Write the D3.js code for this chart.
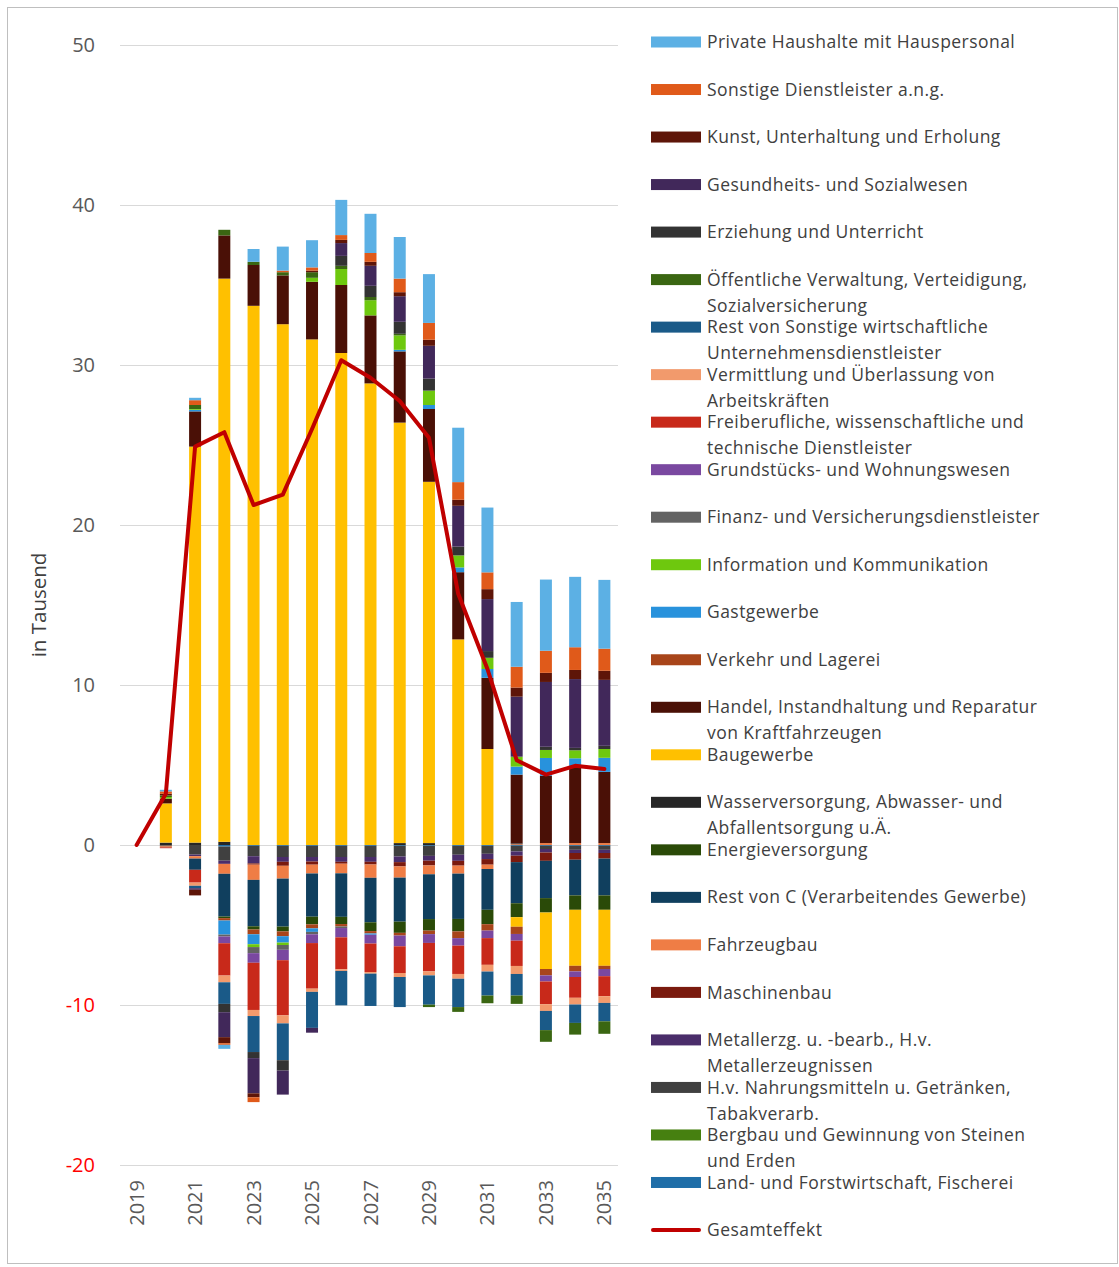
<!DOCTYPE html>
<html><head><meta charset="utf-8">
<script src="https://cdn.jsdelivr.net/npm/d3@7"></script>
<style>body{margin:0;background:#fff}</style>
</head><body><svg id="c" width="1119" height="1267"></svg>
<script>
// ---------- DATA ----------
const years = [2019,2020,2021,2022,2023,2024,2025,2026,2027,2028,2029,2030,2031,2032,2033,2034,2035];
const yearTickLabels = [2019,2021,2023,2025,2027,2029,2031,2033,2035];
const yTicks = [-20,-10,0,10,20,30,40,50];

const landForst      = [0,0,0,-0.1,-0.05,-0.05,-0.05,-0.05,-0.05,-0.05,-0.05,-0.05,-0.05,-0.05,-0.05,-0.05,-0.05];
const bergbau        = [0,0,0,0,0,0,0,0,0,0,0,0,0,0,0,0,0];
const nahrung        = [0,-0.05,-0.6,-0.88,-0.65,-0.7,-0.7,-0.7,-0.7,-0.67,-0.63,-0.56,-0.5,-0.35,-0.2,-0.25,-0.25];
const metall         = [0,0,-0.1,-0.2,-0.45,-0.3,-0.28,-0.3,-0.3,-0.35,-0.3,-0.38,-0.33,-0.27,-0.22,-0.2,-0.2];
const maschinenbau   = [0,0,0,0,-0.08,-0.25,-0.2,-0.12,-0.17,-0.27,-0.3,-0.3,-0.35,-0.4,-0.52,-0.42,-0.35];
const fahrzeugbau    = [0,-0.05,-0.15,-0.62,-0.95,-0.8,-0.55,-0.6,-0.83,-0.7,-0.55,-0.5,-0.27,0.05,0.12,0.12,0.12];
const restC          = [0,0,-0.7,-2.67,-2.9,-3.0,-2.7,-2.72,-2.78,-2.75,-2.8,-2.83,-2.55,-2.57,-2.33,-2.23,-2.3];
const energie        = [0,0,0,-0.1,-0.2,-0.3,-0.48,-0.45,-0.55,-0.7,-0.72,-0.78,-0.9,-0.87,-0.9,-0.9,-0.9];
const wasser         = [0,0.15,0.15,0.2,0,0,0,0,0,0.12,0.12,0,0,0.05,0,0,0];
const baugewerbe     = [0,2.45,24.75,35.2,33.7,32.55,31.6,30.75,28.85,26.28,22.58,12.85,6.0,-0.6,-3.53,-3.5,-3.5];
const handel         = [0,0.3,2.2,2.7,2.55,3.05,3.6,4.25,4.25,4.45,4.55,4.2,4.45,4.3,4.2,4.75,4.45];
const verkehr        = [0,-0.05,0,-0.15,-0.3,-0.3,-0.25,-0.15,-0.15,-0.17,-0.22,-0.42,-0.4,-0.45,-0.4,-0.35,-0.2];
const gastgewerbe    = [0,0,0.1,-0.88,-0.62,-0.4,-0.22,0,-0.08,0.1,0.25,0.3,0.55,0.5,1.12,0.55,0.88];
const information    = [0,0.1,0.05,0,-0.18,-0.15,0.25,1.0,0.95,0.9,0.9,0.75,0.7,0.62,0.5,0.5,0.55];
const finanz         = [0,0,0,-0.12,-0.38,-0.3,-0.15,-0.1,0,0,0,0,0,0,0,0,0];
const grundstuecke   = [0,0,0,-0.42,-0.6,-0.65,-0.55,-0.58,-0.55,-0.67,-0.55,-0.47,-0.47,-0.42,-0.38,-0.35,-0.45];
const freiberufliche = [0,-0.05,-0.8,-2.02,-2.95,-3.45,-2.85,-2.0,-1.78,-1.67,-1.78,-1.77,-1.67,-1.58,-1.42,-1.3,-1.25];
const vermittlung    = [0,0,-0.2,-0.42,-0.38,-0.5,-0.2,-0.1,-0.1,-0.25,-0.25,-0.3,-0.42,-0.5,-0.42,-0.42,-0.42];
const restSonstige   = [0,0,-0.15,-1.35,-2.25,-2.3,-2.25,-2.15,-2.02,-1.88,-1.83,-1.77,-1.5,-1.35,-1.2,-1.15,-1.15];
const oeffentliche   = [0,0.1,0.25,0.35,0.2,0.2,0.35,0.2,0.2,0.1,-0.15,-0.3,-0.48,-0.52,-0.73,-0.73,-0.78];
const erziehung      = [0,0,0,-0.52,-0.38,-0.65,0,0.62,0.7,0.75,0.75,0.55,0.42,0,0.2,0.15,0.2];
const gesundheit     = [0,0,-0.1,-1.56,-2.2,-1.5,-0.3,0.8,1.25,1.6,2.05,2.55,3.25,3.75,4.05,4.3,4.12];
const kunst          = [0,0.1,-0.35,-0.38,-0.25,0,0.1,0.2,0.25,0.25,0.38,0.38,0.62,0.57,0.57,0.57,0.57];
const sonstigeDL     = [0,0.15,0.3,-0.1,-0.3,0.1,0.2,0.3,0.55,0.85,1.05,1.1,1.05,1.3,1.38,1.42,1.38];
const privateHH      = [0,0.1,0.15,-0.25,0.8,1.5,1.7,2.2,2.45,2.6,3.05,3.4,4.05,4.05,4.45,4.4,4.3];
const gesamteffekt   = [0,3.2,24.9,25.8,21.25,21.9,26.0,30.3,29.2,27.75,25.45,15.7,11.0,5.3,4.4,4.95,4.75];

// series in stacking order (first = closest to zero)
const seriesNames = [
  "Land- und Forstwirtschaft, Fischerei",
  "Bergbau und Gewinnung von Steinen\nund Erden",
  "H.v. Nahrungsmitteln u. Getränken,\nTabakverarb.",
  "Metallerzg. u. -bearb., H.v.\nMetallerzeugnissen",
  "Maschinenbau",
  "Fahrzeugbau",
  "Rest von C (Verarbeitendes Gewerbe)",
  "Energieversorgung",
  "Wasserversorgung, Abwasser- und\nAbfallentsorgung u.Ä.",
  "Baugewerbe",
  "Handel, Instandhaltung und Reparatur\nvon Kraftfahrzeugen",
  "Verkehr und Lagerei",
  "Gastgewerbe",
  "Information und Kommunikation",
  "Finanz- und Versicherungsdienstleister",
  "Grundstücks- und Wohnungswesen",
  "Freiberufliche, wissenschaftliche und\ntechnische Dienstleister",
  "Vermittlung und Überlassung von\nArbeitskräften",
  "Rest von Sonstige wirtschaftliche\nUnternehmensdienstleister",
  "Öffentliche Verwaltung, Verteidigung,\nSozialversicherung",
  "Erziehung und Unterricht",
  "Gesundheits- und Sozialwesen",
  "Kunst, Unterhaltung und Erholung",
  "Sonstige Dienstleister a.n.g.",
  "Private Haushalte mit Hauspersonal"
];
const seriesValues = [landForst,bergbau,nahrung,metall,maschinenbau,fahrzeugbau,restC,energie,wasser,
  baugewerbe,handel,verkehr,gastgewerbe,information,finanz,grundstuecke,freiberufliche,vermittlung,
  restSonstige,oeffentliche,erziehung,gesundheit,kunst,sonstigeDL,privateHH];
const lineName = "Gesamteffekt";

// ---------- STYLE ----------
const colors = ["#1f6ea8","#468010","#404040","#4a2d6a","#7a1a0e","#ef7d45","#103f5e","#2a4a08","#262626",
  "#ffc000","#4a1006","#a8451a","#2892dc","#6ec80e","#636363","#7a48a0","#c8291a","#f29a6c",
  "#1a5a88","#3a6612","#333333","#41285a","#5e1508","#e05a1a","#5cb0e4"];
const lineColor = "#c00000";
const FONT = "'Open Sans', sans-serif";

const svg = d3.select("#c");
svg.append("rect").attr("x",7.5).attr("y",7.5).attr("width",1110).attr("height",1256)
  .attr("fill","#fff").attr("stroke","#bfbfbf").attr("stroke-width",1);

const x = d3.scaleBand().domain(years).range([122,619]).paddingInner(0.59).paddingOuter(0.295);
const y = d3.scaleLinear().domain([-20,50]).range([1165,45]);

// gridlines
const grid = svg.append("g").attr("transform","translate(120,0)")
  .call(d3.axisLeft(y).tickValues(yTicks).tickSize(-498).tickFormat(""));
grid.select(".domain").remove();
grid.selectAll("line").attr("stroke","#d9d9d9").attr("stroke-width",1);

// y axis labels
const ya = svg.append("g").attr("transform","translate(122,0)")
  .call(d3.axisLeft(y).tickValues(yTicks).tickSize(0).tickPadding(27).tickFormat(d=>String(d)));
ya.select(".domain").remove();
ya.selectAll("text").attr("font-family",FONT).attr("font-size",20)
  .attr("fill",d=>d<0?"#ff0000":"#595959");

// y title
svg.append("text").attr("transform","translate(46,605) rotate(-90)")
  .attr("text-anchor","middle").attr("font-family",FONT).attr("font-size",20.5).attr("fill","#404040")
  .text("in Tausend");

// x axis labels
const xa = svg.append("g").attr("transform","translate(0,1165)")
  .call(d3.axisBottom(x).tickValues(yearTickLabels).tickSize(0).tickPadding(0));
xa.select(".domain").remove();
xa.selectAll("text").attr("font-family",FONT).attr("font-size",20).attr("fill","#595959")
  .attr("text-anchor","end").attr("transform","translate(0,15) rotate(-90)")
  .attr("dy","0.35em").attr("x",0).attr("y",0);

// stacked data
const keys = seriesNames.map((_,i)=>"s"+i);
const table = years.map((yr,j)=>{const o={year:yr}; keys.forEach((k,i)=>o[k]=seriesValues[i][j]); return o;});
const stacked = d3.stack().keys(keys).offset(d3.stackOffsetDiverging)(table);

svg.append("g").selectAll("g").data(stacked).join("g").attr("fill",(d,i)=>colors[i])
  .selectAll("rect").data(d=>d).join("rect")
  .attr("x",d=>x(d.data.year)).attr("width",x.bandwidth())
  .attr("y",d=>y(Math.max(d[0],d[1]))).attr("height",d=>Math.abs(y(d[0])-y(d[1])));

// line
const line = d3.line().x((d,i)=>x(years[i])+x.bandwidth()/2).y(d=>y(d));
svg.append("path").datum(gesamteffekt).attr("d",line).attr("fill","none")
  .attr("stroke",lineColor).attr("stroke-width",4).attr("stroke-linejoin","round").attr("stroke-linecap","round");

// legend
const legendItems = seriesNames.map((n,i)=>({name:n,color:colors[i],type:"bar"})).reverse()
  .concat([{name:lineName,color:lineColor,type:"line"}]);
const ly = d3.scaleLinear().domain([0,25]).range([42,1230]);
const lg = svg.append("g");
legendItems.forEach((it,i)=>{
  const cy = ly(i);
  if(it.type==="bar"){
    lg.append("rect").attr("x",651).attr("y",cy-5.5).attr("width",50).attr("height",11).attr("fill",it.color);
  } else {
    lg.append("line").attr("x1",653).attr("x2",699).attr("y1",cy).attr("y2",cy)
      .attr("stroke",it.color).attr("stroke-width",4).attr("stroke-linecap","round");
  }
  const t = lg.append("text").attr("x",707).attr("y",cy).attr("font-family",FONT)
    .attr("font-size",17.5).attr("letter-spacing","0.45px").attr("fill","#404040");
  it.name.split("\n").forEach((ln,k)=>{
    t.append("tspan").attr("x",707).attr("dy",k===0?"0.35em":"26px").text(ln);
  });
});
</script></body></html>
